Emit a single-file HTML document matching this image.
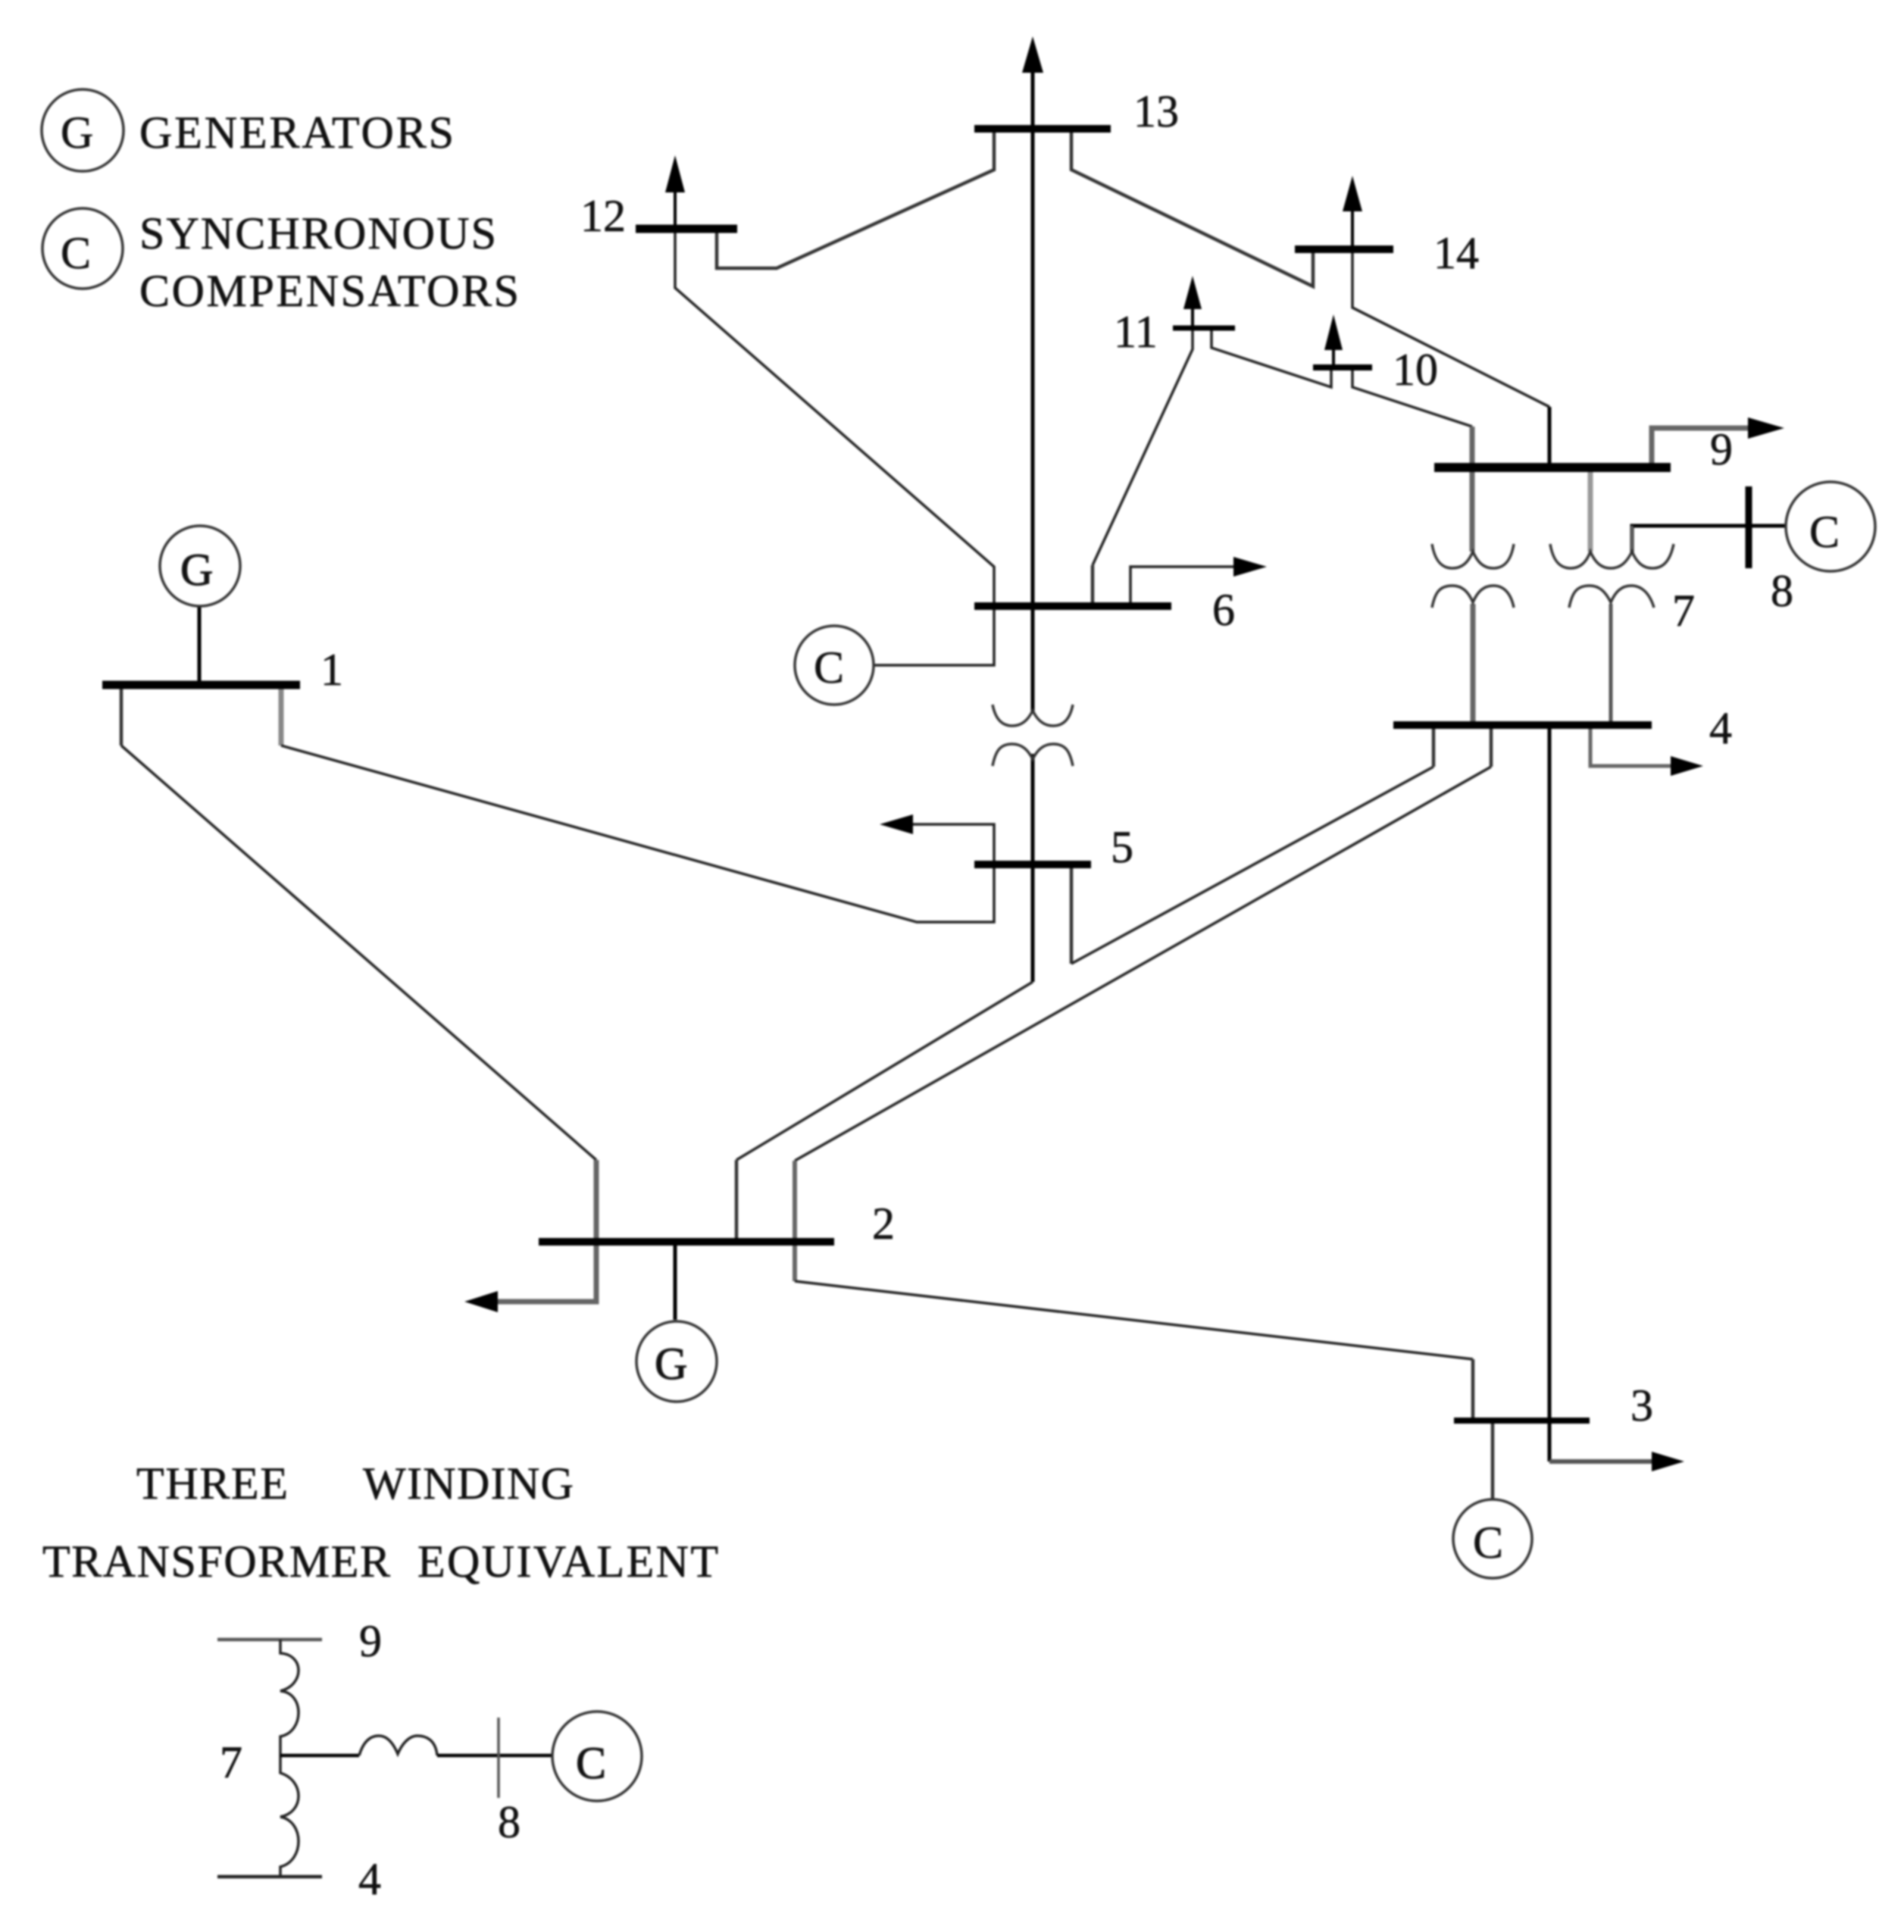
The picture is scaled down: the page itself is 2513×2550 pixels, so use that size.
<!DOCTYPE html>
<html><head><meta charset="utf-8">
<style>
html,body{margin:0;padding:0;background:#fff}
svg{display:block;filter:blur(1.4px)}
text{font-family:"Liberation Serif",serif;font-size:60px;fill:#111;stroke:#222;stroke-width:.7}
.t{fill:none;stroke:#222;stroke-width:3.5;stroke-linejoin:miter}
.m{fill:none;stroke:#333;stroke-width:4.5}
.k{fill:none;stroke:#000;stroke-width:5}
.g{fill:none;stroke:#666;stroke-width:7}
.b{stroke:#000;fill:none}
.c{fill:#fff;stroke:#333;stroke-width:3.5}
.a{fill:#000;stroke:none}
</style></head><body>
<svg width="2513" height="2550" viewBox="0 0 2513 2550" xmlns="http://www.w3.org/2000/svg">
<rect width="2513" height="2550" fill="#fff"/>

<!-- Legend -->
<circle class="c" cx="109" cy="172" r="54"/>
<text x="80" y="195">G</text>
<text x="184" y="195" textLength="415" lengthAdjust="spacing">GENERATORS</text>
<circle class="c" cx="109" cy="328" r="53"/>
<text x="80" y="354">C</text>
<text x="184" y="328" textLength="471" lengthAdjust="spacing">SYNCHRONOUS</text>
<text x="184" y="404" textLength="501" lengthAdjust="spacing">COMPENSATORS</text>

<!-- Connectors -->
<path class="k" d="M1363,94V940M1363,995V1296"/>
<path class="t" d="M1363,1296L972,1531"/>
<path class="m" d="M972,1531V1639"/>
<path class="t" d="M891,254V380L1312,748V878H1153"/>
<path class="m" d="M946,302V354H1025L1312,224V170"/>
<path class="m" d="M1414,170V224L1733,378V329"/>
<path class="t" d="M1785,279V406L2045,537"/>
<path class="k" d="M2045,537V617"/>
<path class="g" d="M2180,617V565H2307"/>
<path class="t" d="M1574,406V461L1442,746"/>
<path class="m" d="M1442,746V800"/>
<path class="t" d="M1492,800V748H1628"/>
<path class="t" d="M1599,433V459L1757,511V485"/>
<path class="t" d="M1785,485V511L1943,563"/>
<path class="g" d="M1943,563V728M1944,797V957"/>
<path class="g" style="stroke:#999" d="M2099,617V728"/>
<path class="k" d="M2154,730V694H2360"/>
<path class="t" style="stroke:#666" d="M2154,694V730"/>
<path class="t" style="stroke:#555;stroke-width:5" d="M2126,797V957"/>
<path class="k" d="M263,789V904"/>
<path class="m" d="M160,904V984"/>
<path class="t" d="M160,984L787,1531"/>
<path class="g" d="M787,1531V1718H657"/>
<path class="g" style="stroke:#888" d="M371,904V984"/>
<path class="t" d="M371,984L1210,1217H1312V1141"/>
<path class="t" d="M1205,1088H1312V1141"/>
<path class="m" d="M1414,1141V1272"/>
<path class="t" d="M1414,1272L1892,1012"/>
<path class="m" d="M1892,1012V957"/>
<path class="m" d="M1968,957V1012"/>
<path class="t" d="M1968,1012L1049,1532"/>
<path class="g" style="stroke-width:6" d="M1049,1532V1691"/>
<path class="t" d="M1049,1691L1944,1794"/>
<path class="m" d="M1944,1794V1875"/>
<path class="k" d="M2045,957V1929"/>
<path class="g" style="stroke-width:6;stroke:#555" d="M2045,1929H2180"/>
<path class="t" style="stroke:#666;stroke-width:5" d="M2099,957V1011H2205"/>
<path class="k" d="M891,1639V1742"/>
<path class="m" d="M1970,1875V1979"/>

<!-- Buses -->
<g class="b">
<path stroke-width="11" d="M135,904H396"/>
<path stroke-width="11" d="M839,302H973"/>
<path stroke-width="10" d="M1286,170H1466"/>
<path stroke-width="10" d="M1709,329H1839"/>
<path stroke-width="7" d="M1548,433H1630"/>
<path stroke-width="8" d="M1733,485H1811"/>
<path stroke-width="12" d="M1893,617H2205"/>
<path stroke-width="10" d="M1286,800H1546"/>
<path stroke-width="10" d="M1839,957H2180"/>
<path stroke-width="10" d="M1286,1141H1440"/>
<path stroke-width="10" d="M711,1639H1101"/>
<path stroke-width="8" d="M1919,1875H2098"/>
<path stroke-width="9" d="M2308,642V750"/>
</g>

<!-- Arrowheads -->
<path class="k" style="stroke-width:4" d="M891,254V302M1785,279V329M1574,406V433M1760,462V485"/>
<path class="a" d="M891,205L904,254H878Z"/>
<path class="a" d="M1363,48L1377,96H1349Z"/>
<path class="a" d="M1785,232L1798,279H1772Z"/>
<path class="a" d="M1574,364L1586,408H1562Z"/>
<path class="a" d="M1760,415L1772,462H1748Z"/>
<path class="a" d="M2355,565L2307,551V579Z"/>
<path class="a" d="M1672,748L1628,735V761Z"/>
<path class="a" d="M2248,1011L2205,998V1024Z"/>
<path class="a" d="M2223,1929L2180,1916V1942Z"/>
<path class="a" d="M1161,1088L1205,1075V1101Z"/>
<path class="a" d="M613,1718L657,1704V1732Z"/>

<!-- Transformers -->
<g class="t" style="stroke:#333;stroke-width:3.5">
<path d="M1890,718c4,24 14,32 27,32c13,0 21,-8 27,-22c6,14 14,22 27,22c13,0 23,-8 27,-32"/>
<path d="M1890,802c4,-20 10,-29 27,-29c13,0 21,8 27,22c6,-14 14,-22 27,-22c13,0 23,9 27,29"/>
<path d="M2046,718c4,24 14,32 27,32c13,0 21,-8 26,-22c6,14 14,22 27,22c13,0 21,-8 28,-22c6,14 14,22 27,22c13,0 23,-8 28,-32"/>
<path d="M2071,802c4,-20 10,-29 27,-29c13,0 21,8 28,22c6,-14 14,-22 27,-22c13,0 24,9 30,29"/>
<path d="M1310,930c4,20 13,28 26,28c13,0 21,-8 27,-20c6,12 14,20 27,20c13,0 22,-8 26,-28"/>
<path d="M1310,1011c4,-20 10,-29 26,-29c13,0 21,8 27,20c6,-12 14,-20 27,-20c16,0 22,9 26,29"/>
</g>

<!-- Machines -->
<circle class="c" cx="264" cy="747" r="53"/><text x="238" y="772" style="stroke-width:1.2">G</text>
<circle class="c" cx="1101" cy="878" r="52"/><text x="1074" y="901">C</text>
<circle class="c" cx="2416" cy="695" r="59"/><text x="2388" y="722">C</text>
<circle class="c" cx="893" cy="1797" r="53"/><text x="864" y="1820" style="stroke-width:1.2">G</text>
<circle class="c" cx="1970" cy="2031" r="52"/><text x="1944" y="2056">C</text>

<!-- Bus labels -->
<text x="766" y="305">12</text>
<text x="1496" y="167">13</text>
<text x="1892" y="354">14</text>
<text x="1470" y="458">11</text>
<text x="1838" y="508">10</text>
<text x="2257" y="613">9</text>
<text x="2337" y="800">8</text>
<text x="2207" y="826">7</text>
<text x="1600" y="825">6</text>
<text x="1466" y="1138">5</text>
<text x="2256" y="981">4</text>
<text x="2152" y="1875">3</text>
<text x="1151" y="1635">2</text>
<text x="423" y="904">1</text>

<!-- Three winding legend -->
<text x="180" y="1978" textLength="200" lengthAdjust="spacing">THREE</text>
<text x="479" y="1978" textLength="278" lengthAdjust="spacing">WINDING</text>
<text x="56" y="2081" textLength="459" lengthAdjust="spacing">TRANSFORMER</text>
<text x="551" y="2081" textLength="397" lengthAdjust="spacing">EQUIVALENT</text>

<path class="m" style="stroke:#555" d="M287,2164H425"/>
<path class="m" style="stroke:#222" d="M287,2477H425"/>
<path class="t" d="M370,2164V2182C402,2184 402,2224 370,2232C402,2234 402,2286 370,2292V2340C402,2350 402,2392 370,2398C402,2404 402,2456 370,2464V2477"/>
<path class="k" style="stroke-width:4.5" d="M370,2317H474"/>
<path class="t" d="M474,2317c6,-20 16,-26 26,-26c12,0 20,12 25,24c5,-12 14,-24 26,-24c12,0 24,6 26,26"/>
<path class="k" style="stroke-width:4.5" d="M577,2317H729"/>
<path class="t" style="stroke:#555" d="M658,2267V2373"/>
<circle class="c" cx="788" cy="2318" r="59"/><text x="760" y="2347" style="stroke-width:1.2">C</text>
<text x="474" y="2186">9</text>
<text x="290" y="2346">7</text>
<text x="657" y="2425">8</text>
<text x="473" y="2500">4</text>
</svg>
</body></html>
